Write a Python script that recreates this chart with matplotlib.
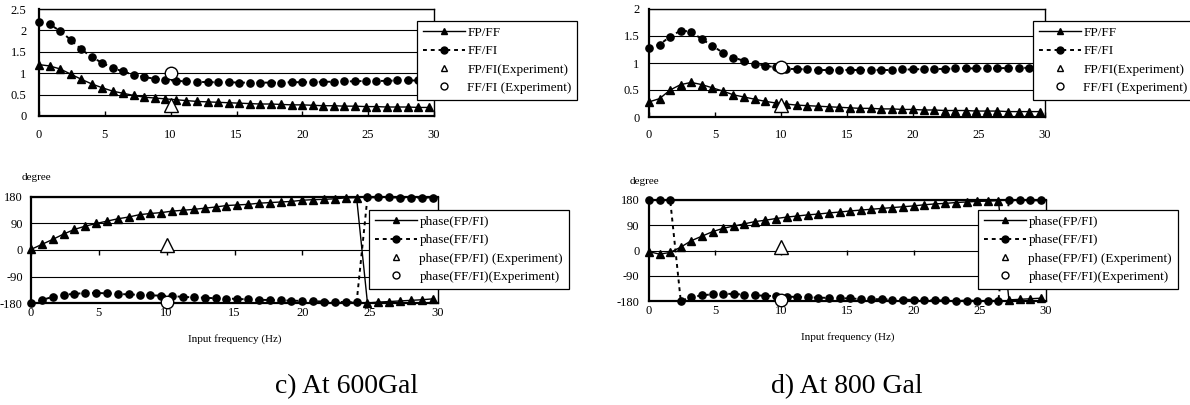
import numpy as np
import matplotlib
matplotlib.use('Agg')
import matplotlib.pyplot as plt

plt.rcParams['font.family'] = ['Liberation Serif', 'DejaVu Serif']
plt.rcParams['axes.unicode_minus'] = False

# ── Données ──────────────────────────────────────
freq = [0.0, 0.8, 1.6, 2.4, 3.2, 4.0, 4.8, 5.6, 6.4, 7.2,
        8.0, 8.8, 9.6, 10.4, 11.2, 12.0, 12.8, 13.6, 14.4, 15.2,
        16.0, 16.8, 17.6, 18.4, 19.2, 20.0, 20.8, 21.6, 22.4, 23.2,
        24.0, 24.8, 25.6, 26.4, 27.2, 28.0, 28.8, 29.6]

# c) 600 Gal
c_fpff = [1.20, 1.17, 1.10, 0.98, 0.86, 0.75, 0.66, 0.58, 0.53, 0.48,
          0.44, 0.42, 0.40, 0.38, 0.36, 0.34, 0.33, 0.32, 0.31, 0.30,
          0.29, 0.28, 0.28, 0.27, 0.26, 0.26, 0.25, 0.24, 0.24, 0.23,
          0.23, 0.22, 0.22, 0.21, 0.21, 0.21, 0.20, 0.20]
c_fffi = [2.19, 2.14, 1.99, 1.78, 1.56, 1.38, 1.24, 1.12, 1.04, 0.96,
          0.91, 0.87, 0.85, 0.82, 0.81, 0.80, 0.79, 0.79, 0.79, 0.78,
          0.78, 0.78, 0.78, 0.78, 0.79, 0.79, 0.79, 0.80, 0.80, 0.81,
          0.81, 0.82, 0.82, 0.82, 0.83, 0.83, 0.83, 0.83]
c_ph_fpfi = [2, 19, 36, 54, 70, 81, 90, 98, 106, 112,
             120, 124, 127, 132, 135, 138, 142, 146, 151, 153,
             155, 159, 161, 163, 165, 169, 171, 172, 174, 177,
             178, -180, -177, -175, -173, -171, -169, -166]
c_ph_fffi = [-180, -170, -159, -152, -149, -146, -146, -147, -149, -151,
             -152, -154, -155, -157, -159, -161, -162, -164, -165, -166,
             -168, -169, -170, -171, -172, -173, -174, -175, -176, -177,
             -178, 179, 179, 179, 178, 178, 178, 178]
c_exp = {'f': 10, 'fpfi': 0.26, 'fffi': 1.01, 'ph_fpfi': 18, 'ph_fffi': -178}

# d) 800 Gal
d_fpff = [0.28, 0.34, 0.50, 0.60, 0.64, 0.60, 0.54, 0.48, 0.41, 0.37,
          0.33, 0.29, 0.26, 0.24, 0.22, 0.21, 0.20, 0.19, 0.18, 0.17,
          0.16, 0.16, 0.15, 0.15, 0.14, 0.14, 0.13, 0.13, 0.12, 0.12,
          0.12, 0.11, 0.11, 0.11, 0.10, 0.10, 0.10, 0.10]
d_fffi = [1.28, 1.34, 1.49, 1.60, 1.58, 1.44, 1.32, 1.19, 1.10, 1.04,
          0.99, 0.95, 0.92, 0.89, 0.89, 0.88, 0.87, 0.87, 0.87, 0.87,
          0.87, 0.87, 0.87, 0.87, 0.88, 0.88, 0.89, 0.89, 0.89, 0.90,
          0.90, 0.90, 0.90, 0.90, 0.91, 0.91, 0.91, 0.91]
d_ph_fpfi = [-4, -13, -7, 12, 35, 51, 67, 79, 87, 95,
             103, 108, 114, 119, 123, 127, 130, 134, 137, 141,
             144, 147, 150, 153, 156, 159, 163, 166, 168, 171,
             173, 175, 176, 178, -176, -174, -172, -170]
d_ph_fffi = [180, 180, 180, -180, -166, -160, -156, -154, -155, -157,
             -160, -161, -163, -164, -166, -167, -168, -169, -170, -171,
             -173, -173, -174, -175, -175, -176, -176, -178, -178, -179,
             -179, -179, -179, -180, 179, 179, 179, 179]
d_exp = {'f': 10, 'fpfi': 0.22, 'fffi': 0.92, 'ph_fpfi': 14, 'ph_fffi': -178}

xticks = [0, 5, 10, 15, 20, 25, 30]
amp_labels = ['FP/FF', 'FF/FI', 'FP/FI(Experiment)', 'FF/FI (Experiment)']
ph_labels = ['phase(FP/FI)', 'phase(FF/FI)', 'phase(FP/FI) (Experiment)',
             'phase(FF/FI)(Experiment)']

W, H = 1190, 405
FS = 9          # graduations
LFS = 9.5       # légendes


def rect(x0, x1, y0, y1):
    return [x0 / W, 1 - y1 / H, (x1 - x0) / W, (y1 - y0) / H]


def draw(ax, y_tri, y_circ, exp_tri, exp_circ, labels, leg_xy, ypad, upper):
    ax.plot(freq, y_tri, '-', color='black', lw=1.0, marker='^', ms=5.5,
            clip_on=False, zorder=3, label=labels[0])
    ax.plot(freq, y_circ, color='black', lw=1.4, ls=(0, (2, 2)),
            marker='o', ms=5.2, clip_on=False, zorder=3, label=labels[1])
    ax.plot([exp_tri[0]], [exp_tri[1]], ls='none', marker='^', ms=10,
            mfc='white', mec='black', mew=1.0, clip_on=False, zorder=5,
            label=labels[2])
    ax.plot([exp_circ[0]], [exp_circ[1]], ls='none', marker='o', ms=9,
            mfc='white', mec='black', mew=1.0, clip_on=False, zorder=5,
            label=labels[3])

    ax.set_xlim(0, 30)
    ax.set_xticks(xticks)
    ax.yaxis.grid(True, color='black', lw=0.8)
    ax.set_axisbelow(True)
    for s in ['left', 'bottom']:
        ax.spines[s].set_linewidth(1.6)
    for s in ['top', 'right']:
        ax.spines[s].set_linewidth(1.0)
    ax.tick_params(axis='y', length=0, pad=ypad, labelsize=FS)
    if upper:
        ax.tick_params(axis='x', direction='in', length=3.5, width=1,
                       pad=9, labelsize=FS)
    else:
        ax.tick_params(axis='x', length=0, pad=3, labelsize=FS)
        sec = ax.secondary_xaxis(0.5)
        sec.set_xticks(xticks)
        sec.tick_params(axis='x', direction='in', length=3.5, width=1,
                        labelbottom=False, labeltop=False)
        for s in sec.spines.values():
            s.set_visible(False)
        ax.spines['top'].set_linewidth(1.6)

    leg = ax.legend(loc='upper left', bbox_to_anchor=(leg_xy[0] / W, 1 - leg_xy[1] / H),
                    bbox_transform=fig.transFigure, borderaxespad=0,
                    fontsize=LFS, handlelength=3.2, handletextpad=0.2,
                    labelspacing=0.47, borderpad=0.42, fancybox=False,
                    framealpha=1, edgecolor='black')
    leg.get_frame().set_linewidth(0.9)
    leg.set_zorder(10)
    for h in leg.legend_handles:
        h.set_markersize(5)


fig = plt.figure(figsize=(W / 100, H / 100), dpi=100)

ax1 = fig.add_axes(rect(39, 434, 9, 116))
draw(ax1, c_fpff, c_fffi, (c_exp['f'], c_exp['fpfi']), (c_exp['f'], c_exp['fffi']),
     amp_labels, (417, 21), 9, True)
ax1.set_ylim(0, 2.5)
ax1.set_yticks([0, 0.5, 1, 1.5, 2, 2.5])
ax1.set_yticklabels(['0', '0.5', '1', '1.5', '2', '2.5'])

ax2 = fig.add_axes(rect(31, 438, 197, 303))
draw(ax2, c_ph_fpfi, c_ph_fffi, (c_exp['f'], c_exp['ph_fpfi']), (c_exp['f'], c_exp['ph_fffi']),
     ph_labels, (369, 210), 6, False)
ax2.set_ylim(-180, 180)
ax2.set_yticks([-180, -90, 0, 90, 180])
ax2.set_xlabel('Input frequency (Hz)', fontsize=8, labelpad=11)

ax3 = fig.add_axes(rect(649, 1045, 9, 117))
draw(ax3, d_fpff, d_fffi, (d_exp['f'], d_exp['fpfi']), (d_exp['f'], d_exp['fffi']),
     amp_labels, (1033, 21), 7, True)
ax3.set_ylim(0, 2)
ax3.set_yticks([0, 0.5, 1, 1.5, 2])
ax3.set_yticklabels(['0', '0.5', '1', '1.5', '2'])

ax4 = fig.add_axes(rect(649, 1046, 200, 301))
draw(ax4, d_ph_fpfi, d_ph_fffi, (d_exp['f'], d_exp['ph_fpfi']), (d_exp['f'], d_exp['ph_fffi']),
     ph_labels, (978, 210), 7, False)
ax4.set_ylim(-180, 180)
ax4.set_yticks([-180, -90, 0, 90, 180])
ax4.set_xlabel('Input frequency (Hz)', fontsize=8, labelpad=11)

fig.text(36 / W, 1 - 177 / H, 'degree', fontsize=8, ha='center', va='center')
fig.text(644 / W, 1 - 182 / H, 'degree', fontsize=8, ha='center', va='center')

fig.text(347 / W, 1 - 387 / H, 'c) At 600Gal', fontsize=20, ha='center', va='center')
fig.text(847 / W, 1 - 387 / H, 'd) At 800 Gal', fontsize=20, ha='center', va='center')

fig.savefig('out.png', dpi=100)
